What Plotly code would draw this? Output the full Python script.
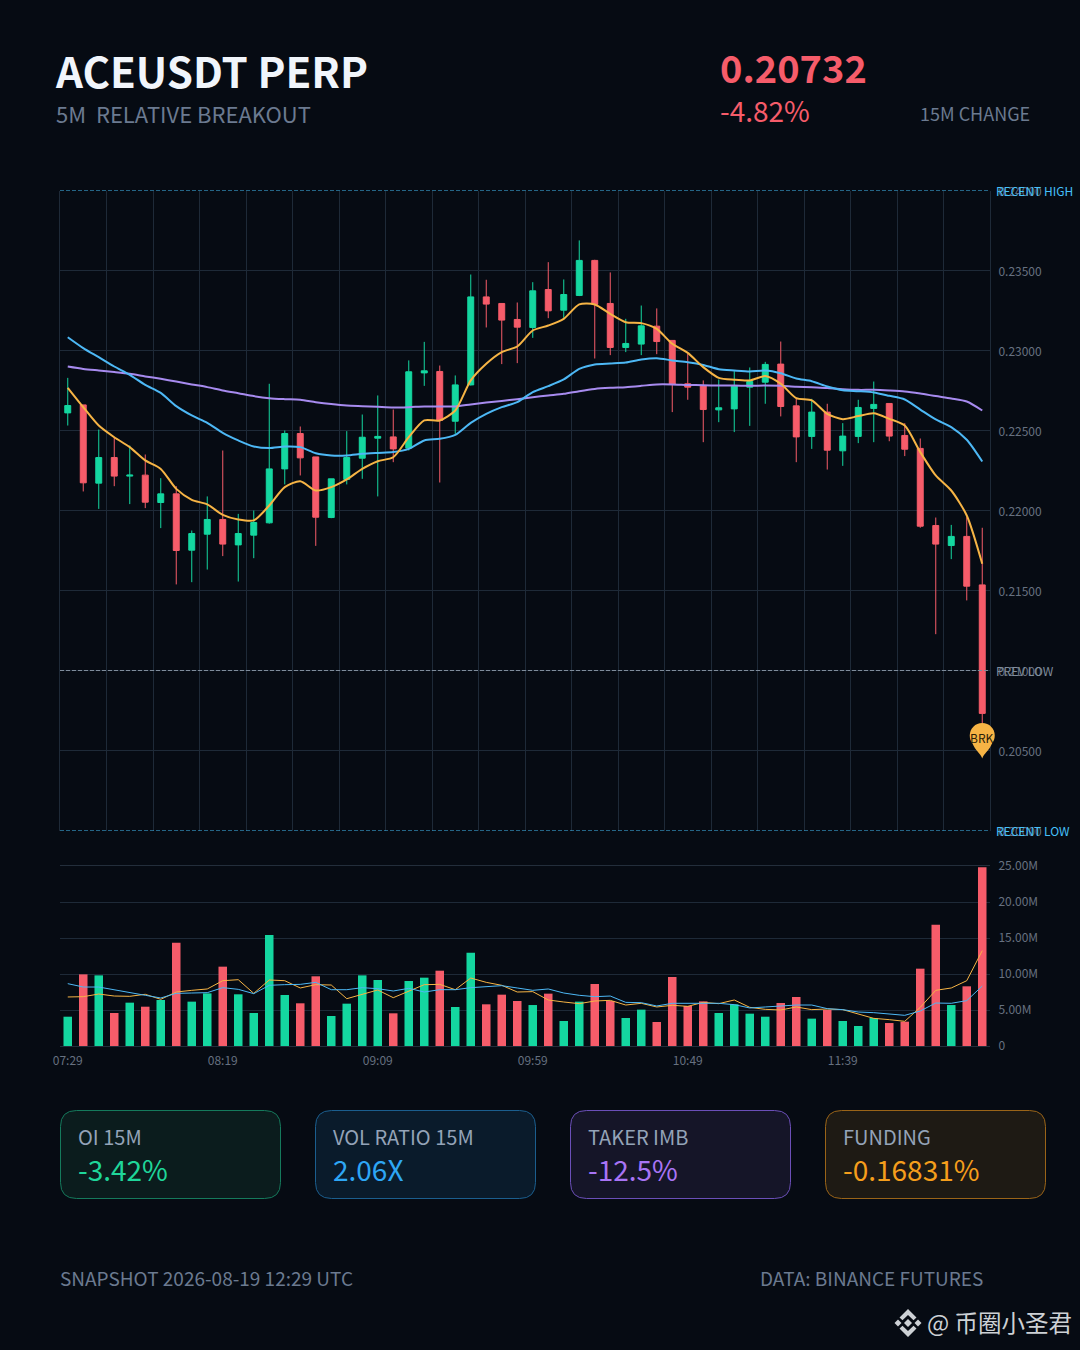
import plotly.graph_objects as go

W, H = 1080, 1350
BG = "#060B13"
GRID = "#1E2A38"
UP = "#14D7A0"
DOWN = "#F65C6A"
ORANGE = "#F6B445"
BLUE = "#4DB8F5"
PURPLE = "#A78BEF"
FONT = "Noto Sans CJK SC"
MUTED = "#6B7A90"

times = ["07:29", "08:19", "09:09", "09:59", "10:49", "11:39"]

opens = [.22610,.22660,.22171,.22331,.22215,.22221,.22050,.22104,.21752,.21852,
         .21944,.21785,.21846,.21923,.22260,.22481,.22335,.21956,.22194,.22327,
         .22452,.22460,.22390,.22860,.22869,.22558,.22785,.23335,.23294,.23194,
         .23144,.23381,.23252,.23344,.23563,.23294,.23019,.23040,.23152,.23063,
         .22792,.22781,.22629,.22635,.22771,.22802,.22915,.22654,.22463,.22615,
         .22373,.22463,.22638,.22669,.22469,.22388,.21906,.21781,.21838,.21535]
highs = [.22829,.22660,.22506,.22458,.22406,.22350,.22202,.22152,.21875,.22088,
         .22375,.21979,.22000,.22792,.22500,.22525,.22335,.22198,.22496,.22600,
         .22719,.22631,.22938,.23054,.22906,.22844,.23475,.23442,.23294,.23300,
         .23427,.23552,.23444,.23688,.23567,.23488,.23198,.23281,.23263,.23063,
         .22979,.22813,.22819,.22871,.22894,.22929,.23056,.22698,.22698,.22667,
         .22546,.22692,.22806,.22669,.22546,.22450,.21956,.21910,.21958,.21892]
lows = [.22531,.22119,.22010,.22152,.22040,.22015,.21890,.21538,.21552,.21631,
        .21715,.21556,.21702,.21918,.22163,.22219,.21779,.21952,.22163,.22198,
        .22088,.22302,.22375,.22779,.22175,.22479,.22781,.23144,.22915,.22921,
        .23079,.23202,.23204,.23340,.22950,.22971,.22990,.22971,.22977,.22615,
        .22692,.22427,.22552,.22490,.22529,.22667,.22588,.22302,.22385,.22256,
        .22279,.22421,.22427,.22433,.22340,.21892,.21227,.21696,.21438,.20667]
closes = [.22656,.22173,.22331,.22215,.22221,.22052,.22104,.21750,.21856,.21944,
          .21790,.21856,.21925,.22260,.22481,.22329,.21958,.22198,.22331,.22458,
          .22463,.22385,.22867,.22873,.22563,.22785,.23335,.23290,.23190,.23146,
          .23373,.23248,.23350,.23563,.23288,.23019,.23044,.23154,.23056,.22788,
          .22771,.22631,.22642,.22777,.22806,.22913,.22650,.22460,.22615,.22377,
          .22465,.22644,.22663,.22465,.22383,.21902,.21790,.21838,.21527,.20732]

ma_fast = [.22767,.22646,.22531,.22458,.22396,.22313,.22260,.22135,.22067,.22038,
           .21973,.21944,.21938,.22031,.22146,.22183,.22125,.22146,.22194,.22260,
           .22308,.22333,.22458,.22563,.22563,.22625,.22813,.22917,.22990,.23025,
           .23125,.23156,.23198,.23288,.23288,.23229,.23177,.23171,.23135,.23042,
           .22985,.22896,.22829,.22817,.22813,.22840,.22792,.22702,.22688,.22604,
           .22571,.22590,.22608,.22573,.22531,.22365,.22219,.22125,.21969,.21667]
ma_mid = [.23083,.23015,.22958,.22900,.22848,.22785,.22735,.22652,.22594,.22548,
          .22485,.22438,.22400,.22390,.22400,.22396,.22358,.22344,.22344,.22354,
          .22360,.22365,.22385,.22438,.22448,.22473,.22548,.22604,.22646,.22677,
          .22740,.22777,.22819,.22885,.22913,.22919,.22925,.22944,.22952,.22938,
          .22927,.22910,.22883,.22875,.22869,.22875,.22858,.22825,.22808,.22775,
          .22752,.22746,.22738,.22717,.22694,.22631,.22569,.22521,.22442,.22306]
ma_slow = [.22900,.22885,.22875,.22865,.22854,.22838,.22823,.22806,.22788,.22771,
           .22750,.22733,.22715,.22702,.22696,.22692,.22677,.22665,.22656,.22652,
           .22648,.22644,.22646,.22650,.22650,.22650,.22663,.22675,.22685,.22696,
           .22708,.22719,.22729,.22746,.22760,.22767,.22771,.22779,.22788,.22788,
           .22785,.22783,.22781,.22781,.22779,.22781,.22779,.22773,.22771,.22765,
           .22758,.22754,.22754,.22750,.22744,.22731,.22715,.22700,.22681,.22625]

volumes_m = [4.07,9.95,9.81,4.58,6.02,5.46,6.39,14.35,6.16,7.31,
             11.02,7.18,4.58,15.42,7.08,5.93,9.68,4.17,5.88,9.81,
             9.17,4.54,9.03,9.49,10.46,5.42,12.96,5.79,7.13,6.25,
             5.69,7.27,3.47,6.16,8.61,6.25,3.89,5.05,3.33,9.58,
             5.56,6.20,4.58,5.79,4.49,4.07,5.97,6.81,3.80,5.00,
             3.47,2.78,3.89,3.19,3.38,10.74,16.85,5.69,8.29,24.81]
vol_fast = [6.81,6.85,7.22,6.94,6.90,7.18,6.48,7.50,7.73,7.92,
            9.07,9.21,7.31,9.17,9.07,8.06,8.52,8.47,6.57,7.13,
            7.78,6.71,7.64,8.52,8.56,7.82,9.44,8.84,8.43,7.50,
            7.55,6.39,6.11,5.88,6.25,6.34,5.69,5.93,5.42,5.65,
            5.51,6.06,5.88,6.39,5.37,5.09,5.00,5.42,5.05,5.14,
            5.05,4.44,3.84,3.66,3.43,5.37,7.73,8.06,9.07,13.24]
vol_slow = [8.66,8.19,8.19,7.78,7.45,7.04,6.67,7.31,7.36,7.41,
            8.10,7.87,7.27,8.43,8.52,8.56,8.84,7.82,7.82,8.10,
            7.96,7.64,8.01,7.50,7.82,7.82,8.10,8.24,8.38,8.06,
            7.73,7.92,7.36,7.04,6.85,6.94,6.06,6.02,5.56,5.93,
            5.93,5.88,5.93,5.74,5.28,5.42,5.56,5.69,5.69,5.19,
            5.05,4.72,4.63,4.40,4.26,4.86,5.97,5.93,6.30,8.33]

level_names = ["RECENT HIGH", "PREV LOW", "RECENT LOW"]
level_values = [0.24, 0.21, 0.20]
level_colors = ["#45C0FA", "#7F8C9B", "#45C0FA"]
price_ticks = [0.20, 0.205, 0.21, 0.215, 0.22, 0.225, 0.23, 0.235, 0.24]
vol_ticks = [0, 5, 10, 15, 20, 25]
vol_tick_text = ["0", "5.00M", "10.00M", "15.00M", "20.00M", "25.00M"]
pin_label = "BRK"
pin_label_price = 0.20581
pin_tip_price = 0.2045

cards = [("OI 15M", "-3.42%", "#0B1C1D", "#157A5C", "#1FD69A"),
         ("VOL RATIO 15M", "2.06X", "#0A1B2B", "#1B5E8E", "#2EA6F5"),
         ("TAKER IMB", "-12.5%", "#151528", "#6B4FB8", "#A874F5"),
         ("FUNDING", "-0.16831%", "#1E1A14", "#9A6418", "#F59E1C")]

xs = list(range(len(closes)))
fx = lambda p: p / W
fy = lambda p: 1 - p / H

fig = go.Figure()
fig.add_trace(go.Candlestick(
    x=xs, open=opens, high=highs, low=lows, close=closes,
    increasing=dict(line=dict(color=UP, width=1), fillcolor=UP),
    decreasing=dict(line=dict(color=DOWN, width=1), fillcolor=DOWN),
    whiskerwidth=0, hoverinfo="skip", showlegend=False, xaxis="x", yaxis="y"))
for vals, col in [(ma_slow, PURPLE), (ma_mid, BLUE), (ma_fast, ORANGE)]:
    fig.add_trace(go.Scatter(x=xs, y=vals, mode="lines", showlegend=False, hoverinfo="skip",
                             line=dict(color=col, width=2, shape="spline", smoothing=0.7),
                             xaxis="x", yaxis="y"))

bar_colors = [UP if c >= o else DOWN for o, c in zip(opens, closes)]
fig.add_trace(go.Bar(x=xs, y=volumes_m, width=0.55, marker=dict(color=bar_colors, line=dict(width=0)),
                     showlegend=False, hoverinfo="skip", xaxis="x2", yaxis="y2"))
fig.add_trace(go.Scatter(x=xs, y=vol_fast, mode="lines", showlegend=False, hoverinfo="skip",
                         line=dict(color=ORANGE, width=1), xaxis="x2", yaxis="y2"))
fig.add_trace(go.Scatter(x=xs, y=vol_slow, mode="lines", showlegend=False, hoverinfo="skip",
                         line=dict(color=BLUE, width=1), xaxis="x2", yaxis="y2"))

ann = []
def text(x, y, s, size, color, anchor="left", bold=False):
    ann.append(dict(x=fx(x), y=fy(y), xref="paper", yref="paper", text=f"<b>{s}</b>" if bold else s,
                    showarrow=False, xanchor=anchor, yanchor="middle", borderpad=0, borderwidth=0,
                    font=dict(family=FONT, size=size, color=color)))

text(55, 69, "ACEUSDT PERP", 42, "#F1F5FB", bold=True)
text(56, 113, "5M\u00a0\u00a0RELATIVE BREAKOUT", 22, MUTED)
text(720, 67, "0.20732", 38, DOWN, bold=True)
text(720, 110, "-4.82%", 28, DOWN)
text(1030, 113, "15M CHANGE", 18, MUTED, anchor="right")
text(60, 1277, "SNAPSHOT 2026-08-19 12:29 UTC", 19, MUTED)
text(760, 1277, "DATA: BINANCE FUTURES", 19, MUTED)
text(927, 1322, "@ 币圈小圣君", 23.5, "#CDD1D5")

shapes = []
def rrect(x0, y0, x1, y1, r):
    c = lambda x, y: f"{fx(x)},{fy(y)}"
    return (f"M{c(x0+r,y0)} L{c(x1-r,y0)} Q{c(x1,y0)} {c(x1,y0+r)} L{c(x1,y1-r)} Q{c(x1,y1)} {c(x1-r,y1)} "
            f"L{c(x0+r,y1)} Q{c(x0,y1)} {c(x0,y1-r)} L{c(x0,y0+r)} Q{c(x0,y0)} {c(x0+r,y0)} Z")

for (label, value, fill, edge, vcol), cx in zip(cards, [60, 315, 570, 825]):
    shapes.append(dict(type="path", xref="paper", yref="paper", path=rrect(cx + .5, 1110.5, cx + 220.5, 1198.5, 16),
                       fillcolor=fill, line=dict(color=edge, width=1), layer="below"))
    text(cx + 18, 1136, label, 20, "#94A3B8")
    text(cx + 18, 1169, value, 28, vcol)

for name, val, col in zip(level_names, level_values, level_colors):
    shapes.append(dict(type="line", xref="paper", yref="y", x0=fx(60), x1=fx(990), y0=val, y1=val,
                       line=dict(color=col, width=1.2, dash="4px,2px"), layer="above"))
    ann.append(dict(x=fx(996), y=val, xref="paper", yref="y", text=name, showarrow=False, xanchor="left",
                    yanchor="middle", borderpad=0, borderwidth=0, font=dict(family=FONT, size=12, color=col)))

# breakout pin: teardrop sized in pixels, anchored on the last candle and the tip price
plot_left, plot_right = 60, 990
slot = (plot_right - plot_left) / len(xs)
pin_x = fx(plot_left + slot * (xs[-1] + 0.5))
shapes.append(dict(type="path", xref="paper", yref="y", xsizemode="pixel", ysizemode="pixel",
                   xanchor=pin_x, yanchor=pin_tip_price, fillcolor=ORANGE, line=dict(width=0), layer="above",
                   path=("M0,0 C-1.5,5 -7,8 -10,15.5 C-11.5,17.5 -12.5,20 -12.5,23 C-12.5,30 -7,35.5 0,35.5 "
                         "C7,35.5 12.5,30 12.5,23 C12.5,20 11.5,17.5 10,15.5 C7,8 1.5,5 0,0 Z")))
ann.append(dict(x=xs[-1], y=pin_label_price, xref="x", yref="y", text=pin_label, showarrow=False, xanchor="center",
                yanchor="middle", borderpad=0, borderwidth=0, font=dict(family=FONT, size=12, color="#2A2008")))

# watermark logo
def poly(pts):
    return "M" + " L".join(f"{fx(x)},{fy(y)}" for x, y in pts) + " Z"
LOGO = "#CDD1D5"
lx, ly = 908, 1323
logo = [[(lx, ly-4), (lx+4, ly), (lx, ly+4), (lx-4, ly)],
        [(lx-10, ly-3.5), (lx-6.5, ly), (lx-10, ly+3.5), (lx-13.5, ly)],
        [(lx+10, ly-3.5), (lx+13.5, ly), (lx+10, ly+3.5), (lx+6.5, ly)],
        [(lx, ly-14), (lx+8.5, ly-5.5), (lx+5.5, ly-2.8), (lx, ly-8), (lx-5.5, ly-2.8), (lx-8.5, ly-5.5)],
        [(lx, ly+14), (lx+8.5, ly+5.5), (lx+5.5, ly+2.8), (lx, ly+8), (lx-5.5, ly+2.8), (lx-8.5, ly+5.5)]]
for pts in logo:
    shapes.append(dict(type="path", xref="paper", yref="paper", path=poly(pts), fillcolor=LOGO, line=dict(width=0)))

tick_font = dict(family=FONT, size=12, color="#667180")
fig.update_layout(
    width=W, height=H, margin=dict(l=0, r=0, t=0, b=0, autoexpand=False), autosize=False,
    paper_bgcolor=BG, plot_bgcolor=BG, showlegend=False, boxgap=0.45, bargap=0.45,
    annotations=ann, shapes=shapes, hovermode=False,
    font=dict(family=FONT),
    xaxis=dict(domain=[fx(60), fx(990)], range=[-0.5, 59.5], anchor="y", rangeslider=dict(visible=False),
               tick0=-0.5, dtick=3, showgrid=True, gridcolor=GRID, gridwidth=1, showticklabels=False,
               ticks="", zeroline=False, showline=False, automargin=False),
    yaxis=dict(domain=[fy(830.5), fy(190.5)], range=[0.20, 0.24], anchor="x", side="right",
               tickvals=price_ticks, tickformat=".5f", showgrid=True, gridcolor=GRID, gridwidth=1,
               ticks="outside", ticklen=5, tickcolor="rgba(0,0,0,0)", tickfont=tick_font, zeroline=False,
               ticklabelshift=1,
               showline=True, mirror=True, linecolor=GRID, linewidth=1, automargin=False),
    xaxis2=dict(domain=[fx(60), fx(990)], range=[-0.5, 59.5], anchor="y2",
                tickvals=[0, 10, 20, 30, 40, 50], ticktext=times, showgrid=False, tickfont=tick_font,
                ticks="outside", ticklen=4, tickcolor="rgba(0,0,0,0)", zeroline=False,
                showline=True, mirror=True, linecolor="#232E3B", linewidth=1, automargin=False),
    yaxis2=dict(domain=[fy(1046), fy(866)], range=[0, 25], anchor="x2", side="right",
                tickvals=vol_ticks, ticktext=vol_tick_text, showgrid=True, gridcolor=GRID, gridwidth=1,
                ticks="outside", ticklen=5, tickcolor="rgba(0,0,0,0)", tickfont=tick_font, zeroline=False,
                automargin=False),
)

page_fix = ("var s=document.createElement('style');"
            "s.textContent='html,body{margin:0!important;padding:0!important;overflow:hidden;background:" + BG + "}"
            ".plotly-graph-div{position:absolute!important;left:0;top:0}';"
            "document.head.appendChild(s);")
fig.write_html("out.html", config=dict(displayModeBar=False), post_script=page_fix)
